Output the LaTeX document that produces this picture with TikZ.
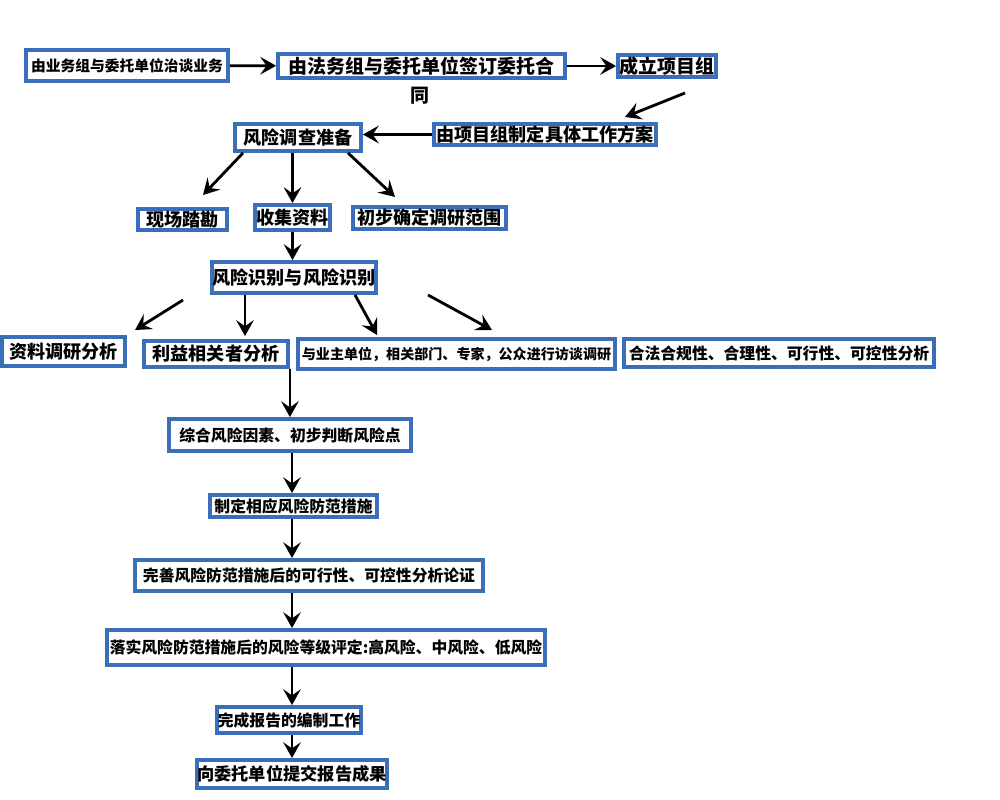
\documentclass[tikz,border=0pt]{standalone}
\usepackage{fontspec}
\setmainfont{Noto Sans CJK SC}
\usetikzlibrary{arrows.meta,calc}
\definecolor{boxblue}{RGB}{58,110,184}

\begin{document}
\begin{tikzpicture}[x=0.02cm, y=-0.02cm,
    box/.style={draw=boxblue, line width=2.2pt, fill=white, inner sep=0pt, align=center},
    fXL/.style={font=\bfseries\fontsize{10.8pt}{12pt}\selectfont},
    fL/.style={font=\bfseries\fontsize{10.3pt}{12pt}\selectfont},
    fM/.style={font=\bfseries\fontsize{9pt}{11pt}\selectfont},
    fS/.style={font=\bfseries\fontsize{8.4pt}{10pt}\selectfont},
    arr/.style={-{Stealth[length=9pt, width=10pt, inset=3.5pt]}, line width=1.6pt},
    thinarr/.style={-{Stealth[length=9pt, width=10pt, inset=3.5pt]}, line width=1pt}]

    \useasboundingbox (0, 0) rectangle (1000, 800);

    \coordinate (spine) at (292, 0);

    \node [box, fS, minimum width=4.04cm, minimum height=0.62cm] (T1) at (127, 65.5) {由业务组与委托单位治谈业务};
    \node [box, fXL, minimum width=5.74cm, minimum height=0.48cm] (T2) at (421.5, 66) {由法务组与委托单位签订委托合};
    \node [fXL] (T2x) at (420, 96) {同};
    \node [box, fXL, minimum width=1.96cm, minimum height=0.44cm] (T3) at (667, 66) {成立项目组};
    \node [box, fL, minimum width=4.44cm, minimum height=0.42cm] (T4) at (545, 134.5) {由项目组制定具体工作方案};

    \node [box, fL, minimum width=2.52cm, minimum height=0.54cm] (P) at (298, 137.5) {风险调查准备};
    \node [box, fL, minimum width=1.78cm, minimum height=0.42cm] (PA) at (182.5, 219.5) {现场踏勘};
    \node [box, fL, minimum width=1.50cm, minimum height=0.50cm] (PB) at (292.5, 217.5) {收集资料};
    \node [box, fL, minimum width=3.06cm, minimum height=0.44cm] (PC) at (429.5, 218) {初步确定调研范围};

    \node [box, fL, minimum width=3.28cm, minimum height=0.62cm] (I) at (294, 277.5) {风险识别与风险识别};
    \node [box, fL, minimum width=2.46cm, minimum height=0.58cm] (IA) at (63.5, 351.5) {资料调研分析};
    \node [box, fL, minimum width=2.88cm, minimum height=0.52cm] (IB) at (216, 354) {利益相关者分析};
    \node [box, font=\bfseries\fontsize{8pt}{10pt}\selectfont, minimum width=6.34cm, minimum height=0.60cm] (IC) at (456.5, 354) {与业主单位，相关部门、专家，公众进行访谈调研};
    \node [box, fM, minimum width=6.20cm, minimum height=0.56cm] (ID) at (779, 353) {合法合规性、合理性、可行性、可控性分析};

    \node [box, fM, minimum width=4.84cm, minimum height=0.64cm] (R1) at (290, 435) {综合风险因素、初步判断风险点};
    \node [box, fM, minimum width=3.34cm, minimum height=0.44cm] (R2) at (293.5, 506) {制定相应风险防范措施};
    \node [box, fM, minimum width=6.96cm, minimum height=0.62cm] (R3) at (309, 575.5) {完善风险防范措施后的可行性、可控性分析论证};
    \node [box, fM, minimum width=8.76cm, minimum height=0.70cm] (R4) at (326, 647.5) {落实风险防范措施后的风险等级评定:高风险、中风险、低风险};
    \node [box, fM, minimum width=2.88cm, minimum height=0.52cm] (R5) at (289, 720) {完成报告的编制工作};
    \node [box, font=\bfseries\fontsize{9.8pt}{11pt}\selectfont, minimum width=3.52cm, minimum height=0.56cm] (R6) at (292, 774) {向委托单位提交报告成果};

    \coordinate (tA) at (685,  93);
    \coordinate (tB) at (625, 117);
    \coordinate (pA) at (203, 195);
    \coordinate (pC) at (395, 197);
    \coordinate (iA1) at (183, 300);
    \coordinate (iA2) at (135, 330);
    \coordinate (iC) at (377, 335);
    \coordinate (iD1) at (428, 295);
    \coordinate (iD2) at (492, 330);

    \draw [arr] (T1) -- (T2);
    \draw [arr] (T2) -- (T3);
    \draw [arr] (tA) -- (tB);
    \draw [arr] (T4.west) -- (T4.west -| P.east);

    \draw [arr] ($(P.south) + (-55, 0)$) -- (pA);
    \draw [arr] (PB.north |- P.south) -- (PB.north);
    \draw [arr] ($(P.south) + (50, 0)$) -- (pC);
    \draw [arr] (PB.south) -- (PB.south |- I.north);

    \draw [arr] (iA1) -- (iA2);
    \draw [arr] (I.south -| 245, 0) -- (245, 336);
    \draw [arr] ($(I.south) + (61, 0)$) -- (iC);
    \draw [arr] (iD1) -- (iD2);

    \draw [arr] (IB.south east) -- (IB.south east |- R1.north);
    \draw [arr] (R1.south -| spine) -- (R2.north -| spine);
    \draw [arr] (R2.south -| spine) -- (R3.north -| spine);
    \draw [thinarr] (R3.south -| spine) -- (R4.north -| spine);
    \draw [arr] (R4.south -| spine) -- (R5.north -| spine);
    \draw [arr] (R5.south -| spine) -- (R6.north -| spine);

\end{tikzpicture}
\end{document}
